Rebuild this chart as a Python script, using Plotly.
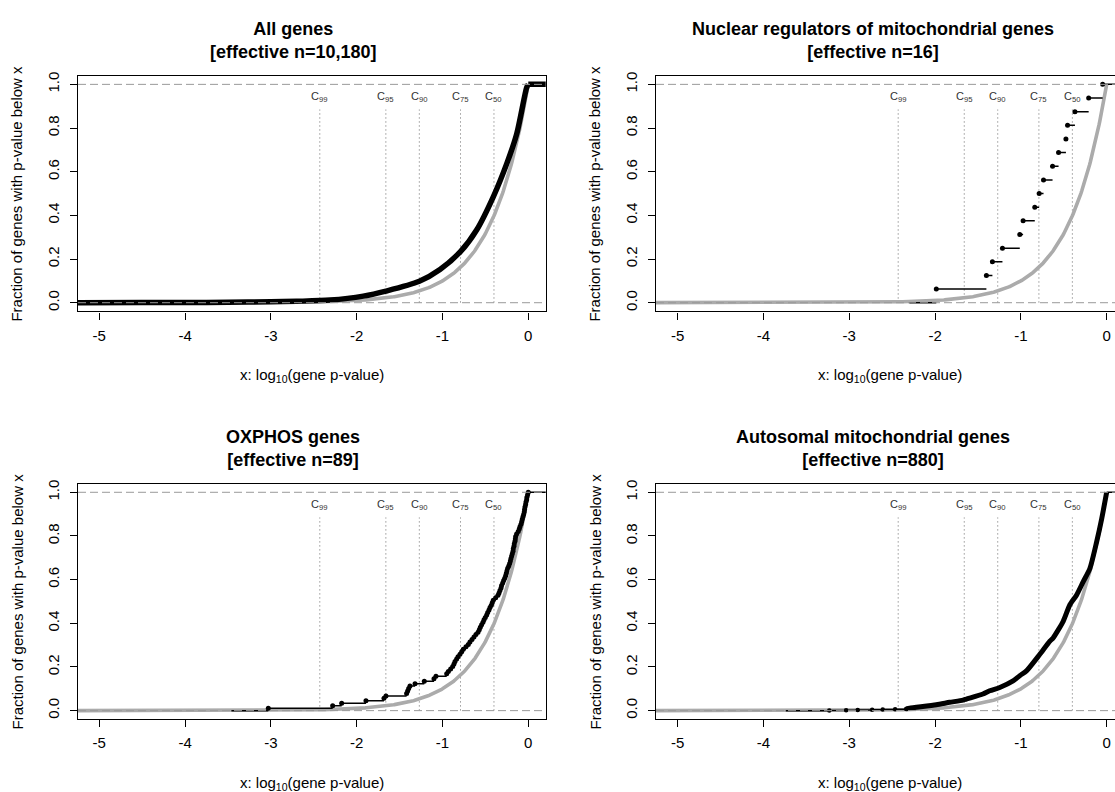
import plotly.graph_objects as go

W, H = 1115, 792
FONT = "Liberation Sans, Arial, Helvetica, sans-serif"

# Significance thresholds (log10 p) drawn as dotted verticals
c_labels = ["99", "95", "90", "75", "50"]
c_x = [-2.43, -1.66, -1.27, -0.79, -0.40]

panel_titles = [
    "All genes",
    "Nuclear regulators of mitochondrial genes",
    "OXPHOS genes",
    "Autosomal mitochondrial genes",
]
panel_n = ["10,180", "16", "89", "880"]

x_ticks = [-5, -4, -3, -2, -1, 0]
y_ticks = [0.0, 0.2, 0.4, 0.6, 0.8, 1.0]
y_tick_text = ["0.0", "0.2", "0.4", "0.6", "0.8", "1.0"]

# All genes: dense empirical CDF of log10(p)
all_x = [-5.40, -4.50, -4.00, -3.50, -3.00, -2.70, -2.31, -1.923, -1.659, -1.270,
         -1.029, -0.788, -0.602, -0.408, -0.252, -0.135, -0.019, 0.0]
all_y = [0.0, 0.0005, 0.001, 0.002, 0.004, 0.0065, 0.012, 0.030, 0.053, 0.098,
         0.152, 0.235, 0.333, 0.485, 0.636, 0.773, 0.985, 1.0]

# Nuclear regulators of mitochondrial genes: 16 sorted log10(p)
nuc_x = [-1.986, -1.402, -1.332, -1.215, -1.013, -0.974, -0.838, -0.787,
         -0.736, -0.631, -0.561, -0.475, -0.456, -0.370, -0.210, -0.047]
nuc_n = 16
nuc_from = -2.30

# OXPHOS genes: 89 sorted log10(p)
ox_x = [-3.030, -2.280, -2.175, -1.892, -1.682, -1.659, -1.418, -1.406, -1.394, -1.379,
        -1.320, -1.212, -1.099, -1.076, -0.951, -0.932, -0.905, -0.881, -0.866, -0.854,
        -0.835, -0.819, -0.796, -0.776, -0.757, -0.726, -0.699, -0.680, -0.656, -0.633,
        -0.610, -0.586, -0.571, -0.559, -0.544, -0.528, -0.516, -0.501, -0.485, -0.473,
        -0.458, -0.446, -0.431, -0.420, -0.408, -0.380, -0.353, -0.341, -0.330, -0.318,
        -0.311, -0.298, -0.287, -0.275, -0.264, -0.256, -0.248, -0.240, -0.228, -0.217,
        -0.209, -0.202, -0.194, -0.186, -0.178, -0.175, -0.167, -0.163, -0.155, -0.151,
        -0.147, -0.136, -0.117, -0.105, -0.097, -0.085, -0.077, -0.070, -0.062, -0.054,
        -0.047, -0.043, -0.039, -0.031, -0.027, -0.019, -0.016, -0.008, 0.0]
ox_n = 89
ox_from = -3.46

# Autosomal mitochondrial genes: sparse low tail, then dense body
auto_n = 880
auto_tail_x = [-3.233, -3.037, -2.902, -2.734, -2.610, -2.466, -2.338]
auto_from = -3.74
auto_x = [-2.338, -2.298, -1.986, -1.831, -1.675, -1.636, -1.442, -1.363, -1.246,
          -1.091, -1.013, -0.935, -0.779, -0.662, -0.624, -0.507, -0.429, -0.350,
          -0.273, -0.195, -0.117, -0.058, 0.0]
auto_y = [0.008, 0.011, 0.027, 0.038, 0.048, 0.053, 0.076, 0.091, 0.106,
          0.136, 0.160, 0.182, 0.258, 0.318, 0.333, 0.409, 0.485, 0.530,
          0.591, 0.652, 0.773, 0.879, 1.0]

# Null expectation: CDF of log10(p) for uniform p-values
null_x = [i / 100 for i in range(-540, 1)]
null_y = [10 ** v for v in null_x]

GRAY = "#ababab"
DASH_GRAY = "#9a9a9a"


def px_x(p):
    return p / W


def px_y(p):
    return 1 - p / H


# panel boxes in pixels: (left, right, top, bottom)
boxes = [(78, 545.7, 72, 309), (656, 1124, 72, 309),
         (78, 545.7, 482, 719), (656, 1124, 482, 719)]
xranges = [[-5.248, 0.203], [-5.253, 0.097], [-5.248, 0.203], [-5.253, 0.097]]
yrange = [-0.04, 1.04]

fig = go.Figure()


def ecdf_steps(xs, n, start, end):
    sx, sy = [start, xs[0], None], [0, 0, None]
    for i, v in enumerate(xs):
        nxt = xs[i + 1] if i + 1 < len(xs) else end
        sx += [v, nxt, None]
        sy += [(i + 1) / n, (i + 1) / n, None]
    return sx, sy


def add(trace, k):
    suffix = "" if k == 0 else str(k + 1)
    trace.update(xaxis="x" + suffix, yaxis="y" + suffix, showlegend=False,
                 hoverinfo="skip")
    fig.add_trace(trace)


for k in range(4):
    add(go.Scatter(x=null_x, y=null_y, mode="lines",
                   line=dict(color=GRAY, width=3.6)), k)

# panel 1
add(go.Scatter(x=all_x, y=all_y, mode="lines",
               line=dict(color="black", width=5.5, shape="spline", smoothing=0.8)), 0)
add(go.Scatter(x=[all_x[-1], 0.4], y=[1.0, 1.0], mode="lines",
               line=dict(color="black", width=5.5)), 0)

# panel 2
sx, sy = ecdf_steps(nuc_x, nuc_n, nuc_from, 0.4)
add(go.Scatter(x=sx, y=sy, mode="lines", line=dict(color="black", width=1.5)), 1)
add(go.Scatter(x=nuc_x, y=[(i + 1) / nuc_n for i in range(nuc_n)], mode="markers",
               marker=dict(color="black", size=5)), 1)

# panel 3
sx, sy = ecdf_steps(ox_x, ox_n, ox_from, 0.4)
add(go.Scatter(x=sx, y=sy, mode="lines", line=dict(color="black", width=1.5)), 2)
add(go.Scatter(x=ox_x, y=[(i + 1) / ox_n for i in range(ox_n)], mode="markers",
               marker=dict(color="black", size=5)), 2)

# panel 4
sx, sy = ecdf_steps(auto_tail_x, auto_n, auto_from, auto_x[1])
add(go.Scatter(x=sx, y=sy, mode="lines", line=dict(color="black", width=1.5)), 3)
add(go.Scatter(x=auto_tail_x, y=[(i + 1) / auto_n for i in range(len(auto_tail_x))],
               mode="markers", marker=dict(color="black", size=4.5)), 3)
add(go.Scatter(x=auto_x, y=auto_y, mode="lines",
               line=dict(color="black", width=5, shape="spline", smoothing=0.6)), 3)
add(go.Scatter(x=[0.0, 0.4], y=[1.0, 1.0], mode="lines",
               line=dict(color="black", width=1.5)), 3)

shapes = []
annotations = []
for k in range(4):
    L, R, T, B = boxes[k]
    suffix = "" if k == 0 else str(k + 1)
    xa, ya = "x" + suffix, "y" + suffix
    right_col = k % 2 == 1
    fig.layout["xaxis" + suffix] = dict(
        domain=[px_x(L), min(1.0, px_x(R))], range=xranges[k], anchor=ya,
        tickvals=x_ticks, ticktext=[str(t) for t in x_ticks],
        ticks="outside", ticklen=7, tickwidth=1, tickcolor="black",
        showline=True, linecolor="black", linewidth=1.2, mirror=True,
        showgrid=False, zeroline=False, ticklabelstandoff=3,
        tickfont=dict(family=FONT, size=15, color="black"))
    fig.layout["yaxis" + suffix] = dict(
        domain=[px_y(B), px_y(T)], range=yrange, anchor=xa,
        tickvals=y_ticks, ticktext=y_tick_text, tickangle=-90,
        ticks="outside", ticklen=7, tickwidth=1, tickcolor="black",
        showline=True, linecolor="black", linewidth=1.2, mirror=not right_col,
        showgrid=False, zeroline=False, ticklabelstandoff=5,
        tickfont=dict(family=FONT, size=15, color="black"))

    # reference levels at 0 and 1
    for yv in (0, 1):
        shapes.append(dict(type="line", xref=xa + " domain", yref=ya,
                           x0=0, x1=1, y0=yv, y1=yv, layer="above",
                           line=dict(color=DASH_GRAY, width=1, dash="8px,4px")))
    # threshold markers
    for lab, xv in zip(c_labels, c_x):
        shapes.append(dict(type="line", xref=xa, yref=ya, x0=xv, x1=xv,
                           y0=0, y1=0.885, layer="below",
                           line=dict(color=DASH_GRAY, width=1, dash="1.5px,2.5px")))
        annotations.append(dict(xref=xa, yref=ya, x=xv, y=0.94,
                                text="C<sub>" + lab + "</sub>", showarrow=False,
                                xanchor="center", yanchor="middle",
                                font=dict(family=FONT, size=11, color="#333333")))

    row_off = 0 if k < 2 else 410
    col_off = 0 if not right_col else 580
    annotations.append(dict(
        xref="paper", yref="paper", x=px_x(293 + col_off), y=px_y(37 + row_off),
        text="<b>" + panel_titles[k] + "</b><br><b>[effective n=" + panel_n[k] + "]</b>",
        showarrow=False, xanchor="center", yanchor="middle",
        font=dict(family=FONT, size=18, color="black")))
    annotations.append(dict(
        xref="paper", yref="paper", x=px_x((L + R) / 2), y=px_y(373 + row_off),
        text="x: log<sub>10</sub>(gene p-value)", showarrow=False,
        xanchor="center", yanchor="middle",
        font=dict(family=FONT, size=15, color="black")))
    annotations.append(dict(
        xref="paper", yref="paper", x=px_x(17 + (578 if right_col else 0)),
        y=px_y((T + B) / 2), text="Fraction of genes with p-value below x",
        textangle=-90, showarrow=False, xanchor="center", yanchor="middle",
        font=dict(family=FONT, size=15, color="black")))

fig.update_layout(
    width=W, height=H, margin=dict(l=0, r=0, t=0, b=0),
    paper_bgcolor="white", plot_bgcolor="white",
    shapes=shapes, annotations=annotations, showlegend=False,
    font=dict(family=FONT, color="black"))

fig.write_html("out.html")
